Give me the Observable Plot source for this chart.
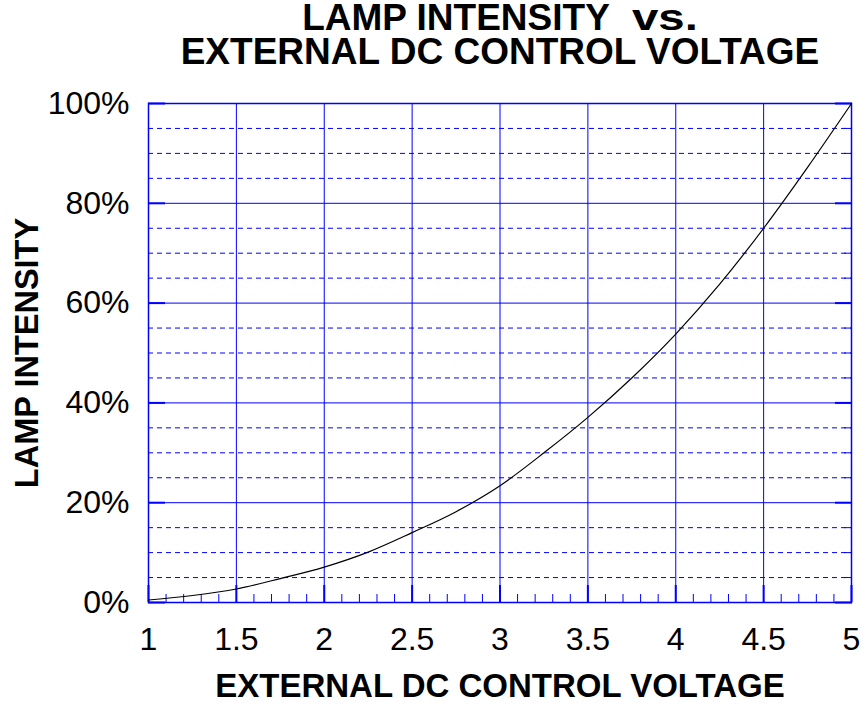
<!DOCTYPE html>
<html>
<head>
<meta charset="utf-8">
<script src="https://cdn.jsdelivr.net/npm/d3@7"></script>
<script src="https://cdn.jsdelivr.net/npm/@observablehq/plot@0.6"></script>
<style>
  html, body { margin: 0; padding: 0; background: #fff; overflow: hidden; }
  #title {
    box-sizing: border-box; width: 865px; padding-left: 135px; padding-top: 1px; height: 69px;
    text-align: center; font-family: "Liberation Sans", Arial, sans-serif;
    font-weight: bold; font-size: 37px; line-height: 34px; color: #000; white-space: nowrap;
  }
  #title .vs { display: inline-block; margin-left: 22px; width: 66px; text-align: left;
               transform: scaleX(1.28); transform-origin: left center; }
  svg { display: block; }
</style>
</head>
<body>
<div id="title">LAMP INTENSITY<span class="vs">vs.</span><br>EXTERNAL DC CONTROL VOLTAGE</div>
<div id="chart"></div>
<script>
const voltage   = [1, 1.25, 1.5, 1.75, 2, 2.25, 2.5, 2.75, 3, 3.25, 3.5, 3.75, 4, 4.25, 4.5, 4.75, 5];
const intensity = [0.5, 1.4, 2.7, 4.8, 7.1, 10.1, 14.0, 18.2, 23.4, 30.0, 37.1, 45.0, 53.8, 63.8, 75.0, 87.2, 100];
const xTicks = [1, 1.5, 2, 2.5, 3, 3.5, 4, 4.5, 5];
const xTickLabels = ["1", "1.5", "2", "2.5", "3", "3.5", "4", "4.5", "5"];
const xMinorTicks = [1.1, 1.2, 1.3, 1.4, 1.6, 1.7, 1.8, 1.9, 2.1, 2.2, 2.3, 2.4, 2.6, 2.7, 2.8, 2.9,
                     3.1, 3.2, 3.3, 3.4, 3.6, 3.7, 3.8, 3.9, 4.1, 4.2, 4.3, 4.4, 4.6, 4.7, 4.8, 4.9];
const yTicks = [0, 20, 40, 60, 80, 100];
const yTickLabels = ["0%", "20%", "40%", "60%", "80%", "100%"];
const yMinorTicks = [5, 10, 15, 25, 30, 35, 45, 50, 55, 65, 70, 75, 85, 90, 95];
const xLabel = "EXTERNAL DC CONTROL VOLTAGE";
const yLabel = "LAMP INTENSITY";

const data = voltage.map((v, i) => ({voltage: v, intensity: intensity[i]}));
const blue = "#0000ff";
const font = "'Liberation Sans', Arial, sans-serif";

const chart = Plot.plot({
  width: 865,
  height: 635,
  marginTop: 34,
  marginBottom: 102,
  marginLeft: 148,
  marginRight: 14,
  x: {domain: [1, 5]},
  y: {domain: [0, 100]},
  style: {fontFamily: font, background: "#fff", color: "#000", overflow: "visible"},
  marks: [
    Plot.ruleY(yMinorTicks, {stroke: blue, strokeWidth: 1, strokeDasharray: "5,4"}),
    Plot.ruleY(yTicks, {stroke: blue, strokeWidth: 1}),
    Plot.ruleX(xTicks, {stroke: blue, strokeWidth: 1}),
    Plot.axisX(xMinorTicks, {anchor: "bottom", tickSize: -8, text: null, stroke: blue, label: null}),
    Plot.axisX(xTicks, {anchor: "bottom", tickSize: -17, text: null, stroke: blue, strokeWidth: 2, label: null}),
    Plot.axisY(yMinorTicks, {anchor: "right", tickSize: -8, text: null, stroke: blue, label: null}),
    Plot.axisY(yTicks, {anchor: "right", tickSize: -17, text: null, stroke: blue, strokeWidth: 2, label: null}),
    Plot.axisY(yTicks, {anchor: "left", tickSize: -17, text: null, stroke: blue, strokeWidth: 2, label: null}),
    Plot.axisX(xTicks, {anchor: "bottom", tickSize: 0, tickPadding: 25, fontSize: 32, label: null,
                        tickFormat: d => xTickLabels[xTicks.indexOf(d)]}),
    Plot.axisY(yTicks, {anchor: "left", tickSize: 0, tickPadding: 19, fontSize: 32, label: null,
                        tickFormat: d => yTickLabels[yTicks.indexOf(d)]}),
    Plot.frame({stroke: blue, strokeWidth: 1.5}),
    Plot.line(data, {x: "voltage", y: "intensity", stroke: "#000", strokeWidth: 1.2, curve: "monotone-x"}),
    Plot.text([xLabel], {frameAnchor: "bottom", dy: 84, fontSize: 33, fontWeight: "bold", lineAnchor: "middle", textAnchor: "middle"}),
    Plot.text([yLabel], {frameAnchor: "left", dx: -121, rotate: -90, fontSize: 32.5, fontWeight: "bold", lineAnchor: "middle", textAnchor: "middle"})
  ]
});
document.getElementById("chart").appendChild(chart);
</script>
</body>
</html>
